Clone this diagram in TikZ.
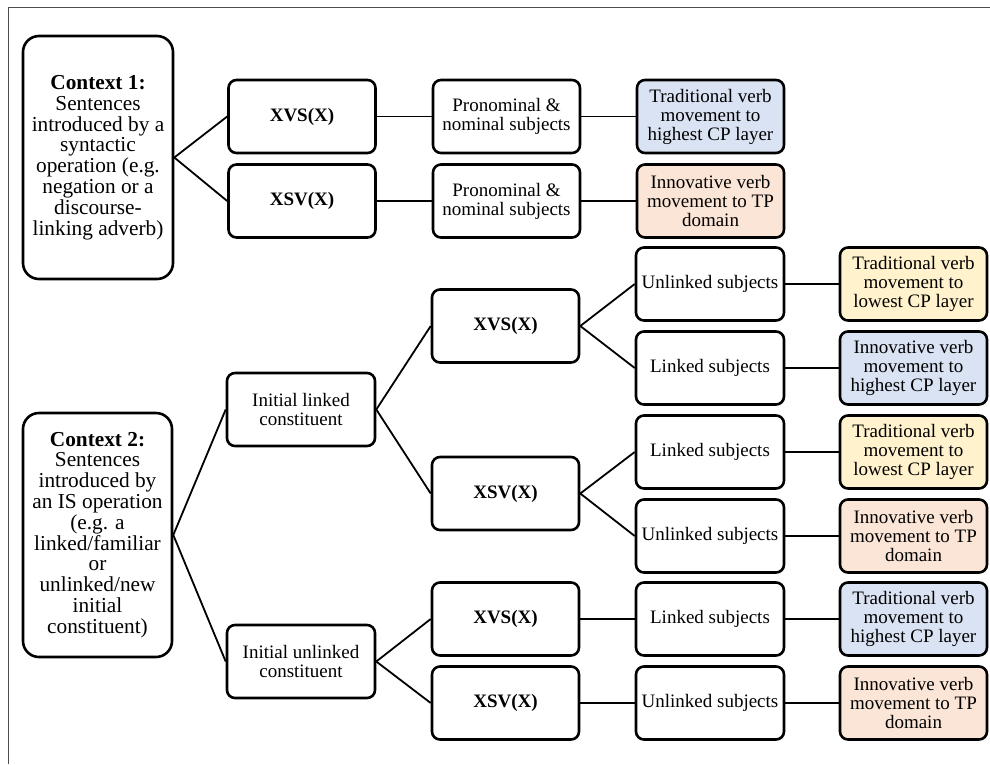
\documentclass[tikz,border=0pt]{standalone}
\usepackage{fontspec}
\setmainfont{Liberation Serif}
\definecolor{cblue}{HTML}{DAE3F3}
\definecolor{corange}{HTML}{FBE5D6}
\definecolor{cyellow}{HTML}{FFF2CC}
\begin{document}
\begin{tikzpicture}[x=1pt,y=-1pt,
  box/.style={draw=black, line width=2.6pt, rounded corners=8pt, align=center,
    inner sep=1pt, minimum width=147pt, minimum height=73pt,
    font=\fontsize{19}{19}\selectfont},
  ctx/.style={box, rounded corners=16pt, minimum width=150pt, minimum height=243pt,
    font=\fontsize{21.3}{20.8}\selectfont},
  bbox/.style={box, font=\fontsize{19}{19}\selectfont\bfseries},
  blue/.style={box, fill=cblue},
  orange/.style={box, fill=corange},
  yellow/.style={box, fill=cyellow},
  conn/.style={draw=black, line width=1.8pt}]
\useasboundingbox (0,0) rectangle (990,764);
\fill[white] (0,0) rectangle (990,764);
\draw[line width=0.8pt, black!70] (990,7) -- (8,7) -- (8,764);

% Context 1 block
\node[ctx] (ctx1) at (98,157.5) {\textbf{Context 1:}\\Sentences\\introduced by a\\syntactic\\operation (e.g.\\negation or a\\discourse-\\linking adverb)};
\node[bbox] (a1) at (302,116.5) {XVS(X)};
\node[bbox] (a2) at (302,201) {XSV(X)};
\node[box] (p1) at (506.5,116.5) {Pronominal \&\\nominal subjects};
\node[box] (p2) at (506.5,201) {Pronominal \&\\nominal subjects};
\node[blue] (c1) at (710.5,116.5) {Traditional verb\\movement to\\highest CP layer};
\node[orange] (c2) at (710.5,201) {Innovative verb\\movement to TP\\domain};

% Context 2 block
\node[ctx, minimum height=244pt, minimum width=149pt] (ctx2) at (97.5,535) {\textbf{Context 2:}\\Sentences\\introduced by\\an IS operation\\(e.g. a\\linked/familiar\\or\\unlinked/new\\initial\\constituent)};
\node[box, minimum width=148pt] (il) at (301,409.5) {Initial linked\\constituent};
\node[box, minimum width=148pt] (iu) at (301,661.5) {Initial unlinked\\constituent};
\node[bbox] (b1) at (505.5,326) {XVS(X)};
\node[bbox] (b2) at (505.5,493.5) {XSV(X)};
\node[bbox] (b3) at (505.5,619) {XVS(X)};
\node[bbox] (b4) at (505.5,703) {XSV(X)};

\node[box, minimum width=148pt] (s1) at (710,284) {Unlinked subjects};
\node[box, minimum width=148pt] (s2) at (710,368) {Linked subjects};
\node[box, minimum width=148pt] (s3) at (710,452) {Linked subjects};
\node[box, minimum width=148pt] (s4) at (710,536) {Unlinked subjects};
\node[box, minimum width=148pt] (s5) at (710,619) {Linked subjects};
\node[box, minimum width=148pt] (s6) at (710,703) {Unlinked subjects};

\node[yellow] (t1) at (913.5,284) {Traditional verb\\movement to\\lowest CP layer};
\node[blue] (t2) at (913.5,368) {Innovative verb\\movement to\\highest CP layer};
\node[yellow] (t3) at (913.5,452) {Traditional verb\\movement to\\lowest CP layer};
\node[orange] (t4) at (913.5,536) {Innovative verb\\movement to TP\\domain};
\node[blue] (t5) at (913.5,619) {Traditional verb\\movement to\\highest CP layer};
\node[orange] (t6) at (913.5,703) {Innovative verb\\movement to TP\\domain};

% connectors
\path[conn] (ctx1.east) -- (a1.west);
\path[conn] (ctx1.east) -- (a2.west);
\path[conn] (a1) -- (p1);
\path[conn] (a2) -- (p2);
\path[conn] (p1) -- (c1);
\path[conn] (p2) -- (c2);

\path[conn] (ctx2.east) -- (il.west);
\path[conn] (ctx2.east) -- (iu.west);
\path[conn] (il.east) -- (b1.west);
\path[conn] (il.east) -- (b2.west);
\path[conn] (iu.east) -- (b3.west);
\path[conn] (iu.east) -- (b4.west);
\path[conn] (b1.east) -- (s1.west);
\path[conn] (b1.east) -- (s2.west);
\path[conn] (b2.east) -- (s3.west);
\path[conn] (b2.east) -- (s4.west);
\path[conn] (b3) -- (s5);
\path[conn] (b4) -- (s6);
\path[conn] (s1) -- (t1);
\path[conn] (s2) -- (t2);
\path[conn] (s3) -- (t3);
\path[conn] (s4) -- (t4);
\path[conn] (s5) -- (t5);
\path[conn] (s6) -- (t6);
\end{tikzpicture}
\end{document}
